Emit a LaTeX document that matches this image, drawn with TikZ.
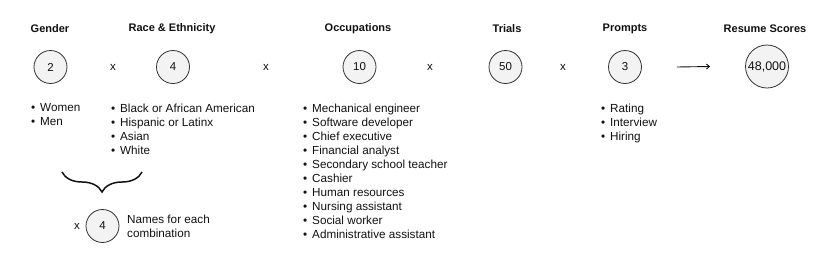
\documentclass[tikz,border=0pt]{standalone}
\usepackage{fontspec}
\setmainfont{Liberation Sans}
\usetikzlibrary{arrows.meta,positioning,decorations.pathreplacing}

\begin{document}
\begin{tikzpicture}[x=1pt, y=-1pt,
  hdr/.style={font=\fontsize{11}{13}\selectfont\bfseries, text=inkT},
  num/.style={circle, draw=ringS, fill=ringF, line width=0.8pt, minimum size=33pt, inner sep=0pt, font=\fontsize{11.5}{13}\selectfont, text=inkT},
  times/.style={font=\fontsize{11.5}{13}\selectfont, text=inkT},
  items/.style={anchor=north west, align=left, inner sep=0pt, font=\fontsize{11.7}{14}\selectfont, text=inkT},
]
\definecolor{inkT}{HTML}{111111}\definecolor{ringS}{HTML}{333333}\definecolor{ringF}{HTML}{F3F3F3}
\newcommand{\itm}{\llap{\textbullet\hspace{5pt}}}
\useasboundingbox[fill=white] (0,0) rectangle (830,255);
% ---- headers ----
\node[hdr] (hGen) at (50,29) {Gender};
\node[hdr] (hRace) at (172,29) {Race \& Ethnicity};
\node[hdr] (hOcc) at (358,29) {Occupations};
\node[hdr] (hTri) at (507,29) {Trials};
\node[hdr] (hPro) at (625,29) {Prompts};
\node[hdr] (hRes) at (765,29) {Resume Scores};
% ---- circles ----
\node[num] (cGen) at (50.5,67) {2};
\node[num] (cRace) at (173,67) {4};
\node[num] (cOcc) at (359.5,67) {10};
\node[num] (cTri) at (505.5,67) {50};
\node[num] (cPro) at (625,67) {3};
\node[num, minimum size=43pt, font=\fontsize{12.5}{14}\selectfont] (cRes) at (767,66.5) {48,000};
% times signs
\node[times] (x1) at (113,67) {x};
\node[times] (x2) at (266,67) {x};
\node[times] (x3) at (430,67) {x};
\node[times] (x4) at (563,67) {x};
\draw[-{Straight Barb[length=3pt,width=5pt]}, line width=0.9pt, inkT] ([xshift=35pt]cPro.east) -- ([xshift=-35pt]cRes.west);
% ---- lists ----
\node[items] (lGen) at (40,103.5) {\itm Women\\ \itm Men};
\node[items] (lRace) at (120,103.5) {\itm Black or African American\\ \itm Hispanic or Latinx\\ \itm Asian\\ \itm White};
\node[items] (lOcc) at (312,103.5)
  {\itm Mechanical engineer\\ \itm Software developer\\ \itm Chief executive\\ \itm Financial analyst\\
   \itm Secondary school teacher\\ \itm Cashier\\ \itm Human resources\\ \itm Nursing assistant\\
   \itm Social worker\\ \itm Administrative assistant};
\node[items] (lPro) at (610,103.5) {\itm Rating\\ \itm Interview\\ \itm Hiring};
% ---- names per combination ----
\coordinate (bL) at (62,172);
\coordinate (bR) at (142,172);
\draw[decorate, decoration={brace, amplitude=20pt}, line width=1.5pt, inkT] (bR) -- (bL);
\node[num] (cNam) at (102.5,226) {4};
\node[times] (x5) at (77,226) {x};
\node[items] (tNam) at (127,214.5) {Names for each\\combination};
\end{tikzpicture}
\end{document}
